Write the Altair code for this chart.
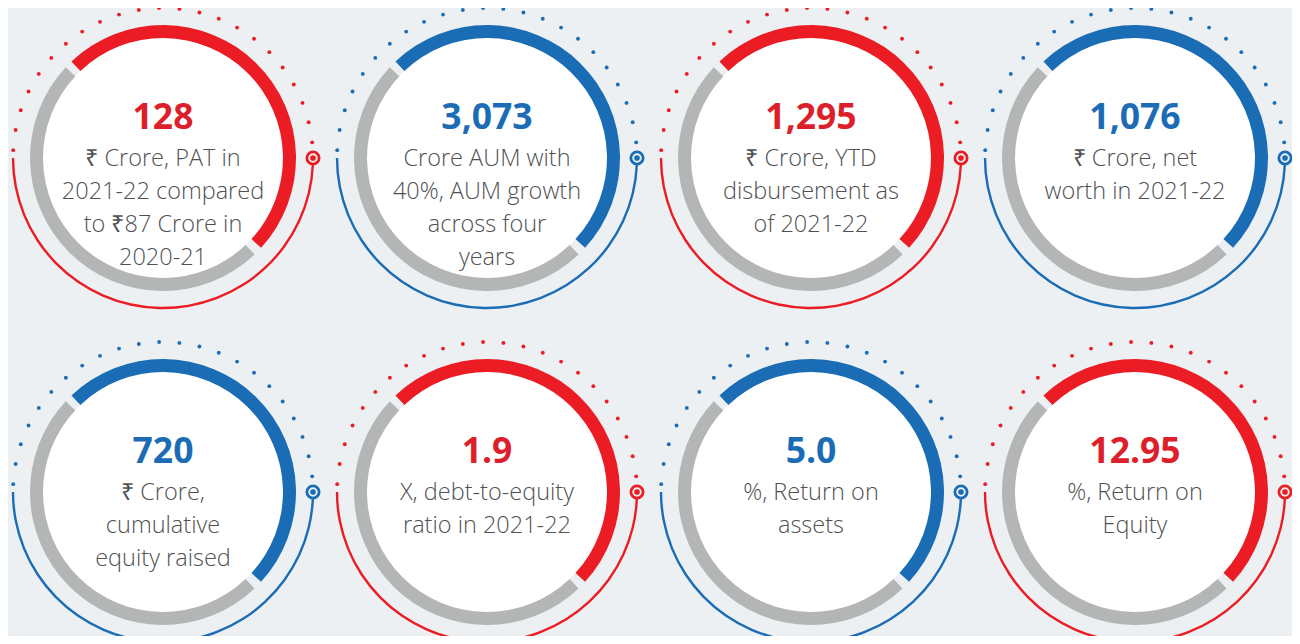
import altair as alt
import pandas as pd
import numpy as np

# ---- KPI content -------------------------------------------------------
values = ["128", "3,073", "1,295", "1,076", "720", "1.9", "5.0", "12.95"]
descriptions = [
    ["₹ Crore, PAT in", "2021-22 compared", "to ₹87 Crore in", "2020-21"],
    ["Crore AUM with", "40%, AUM growth", "across four", "years"],
    ["₹ Crore, YTD", "disbursement as", "of 2021-22"],
    ["₹ Crore, net", "worth in 2021-22"],
    ["₹ Crore,", "cumulative", "equity raised"],
    ["X, debt-to-equity", "ratio in 2021-22"],
    ["%, Return on", "assets"],
    ["%, Return on", "Equity"],
]
tones = ["red", "blue", "red", "blue", "blue", "red", "blue", "red"]
cols = [0, 1, 2, 3, 0, 1, 2, 3]
rows = [0, 0, 0, 0, 1, 1, 1, 1]

# ---- styling -----------------------------------------------------------
RED = "#ec1c24"
BLUE = "#1a6cb5"
NUM_RED = "#dc1f2a"
NUM_BLUE = "#1b6cb5"
GREY = "#b4b5b5"
TXT = "#505153"
BG = "#edf0f3"
TONE = {"red": RED, "blue": BLUE}
NUMTONE = {"red": NUM_RED, "blue": NUM_BLUE}

W, H = 1284, 628
PX_X, PX_Y = 324.0, 334.0      # pixels per column / row
X0, Y0 = 155.0, 150.0          # pixel centre of first column / row
R_IN, R_OUT = 120, 133         # thick ring
R_THIN = 150                   # outer dotted / thin arc

xs = alt.Scale(domain=[-X0 / PX_X, (W - X0) / PX_X], nice=False, zero=False)
ys = alt.Scale(domain=[-Y0 / PX_Y, (H - Y0) / PX_Y], nice=False, zero=False, reverse=True)

deg = np.pi / 180.0

# ---- arc pieces (disc, coloured ring, grey ring, thin outer arc) ------
arc_rows = []
for i in range(len(values)):
    c, r, col = cols[i], rows[i], TONE[tones[i]]
    arc_rows.append(dict(cx=c, cy=r, t1=0.0, t2=2 * np.pi, r1=0, r2=R_IN, fill="#ffffff", o=0))
    arc_rows.append(dict(cx=c, cy=r, t1=-43.5 * deg, t2=132.5 * deg, r1=R_IN, r2=R_OUT, fill=col, o=1))
    arc_rows.append(dict(cx=c, cy=r, t1=136.5 * deg, t2=313.0 * deg, r1=R_IN, r2=R_OUT, fill=GREY, o=2))
    arc_rows.append(dict(cx=c, cy=r, t1=92.7 * deg, t2=270.0 * deg, r1=R_THIN - 1.2, r2=R_THIN + 1.2, fill=col, o=3))
arcs = pd.DataFrame(arc_rows)

arc_layer = alt.Chart(arcs).mark_arc(strokeWidth=0).encode(
    x=alt.X("cx:Q", scale=xs, axis=None),
    y=alt.Y("cy:Q", scale=ys, axis=None),
    theta=alt.Theta("t1:Q", scale=None, stack=None),
    theta2="t2:Q",
    radius=alt.Radius("r1:Q", scale=None),
    radius2="r2:Q",
    color=alt.Color("fill:N", scale=None),
    order=alt.Order("o:Q"),
)

# ---- dotted upper arc --------------------------------------------------
dot_angles = np.linspace(273.0, 444.0, 23)
dot_rows = []
for i in range(len(values)):
    for a in dot_angles:
        dot_rows.append(dict(
            px=cols[i] + R_THIN * np.sin(a * deg) / PX_X,
            py=rows[i] - R_THIN * np.cos(a * deg) / PX_Y,
            fill=TONE[tones[i]],
        ))
dots = pd.DataFrame(dot_rows)
dot_layer = alt.Chart(dots).mark_circle(size=15, opacity=1).encode(
    x=alt.X("px:Q", scale=xs, axis=None),
    y=alt.Y("py:Q", scale=ys, axis=None),
    color=alt.Color("fill:N", scale=None),
)

# ---- target marker at 3 o'clock ---------------------------------------
marks = pd.DataFrame(dict(
    px=[c + R_THIN / PX_X for c in cols],
    py=[float(r) for r in rows],
    fill=[TONE[t] for t in tones],
))
ring_layer = alt.Chart(marks).mark_point(
    shape="circle", size=150, filled=True, fill=BG, strokeWidth=2.8, opacity=1
).encode(
    x=alt.X("px:Q", scale=xs, axis=None),
    y=alt.Y("py:Q", scale=ys, axis=None),
    stroke=alt.Stroke("fill:N", scale=None),
)
core_layer = alt.Chart(marks).mark_circle(size=32, opacity=1).encode(
    x=alt.X("px:Q", scale=xs, axis=None),
    y=alt.Y("py:Q", scale=ys, axis=None),
    color=alt.Color("fill:N", scale=None),
)

# ---- text --------------------------------------------------------------
nums = pd.DataFrame(dict(
    px=[float(c) for c in cols],
    py=[r - 40 / PX_Y for r in rows],
    label=values,
    fill=[NUMTONE[t] for t in tones],
))
num_layer = alt.Chart(nums).mark_text(
    font="Open Sans", fontSize=35.5, fontWeight="bold", baseline="middle", align="center"
).encode(
    x=alt.X("px:Q", scale=xs, axis=None),
    y=alt.Y("py:Q", scale=ys, axis=None),
    text="label:N",
    color=alt.Color("fill:N", scale=None),
)

line_rows = []
for i, lines in enumerate(descriptions):
    for j, s in enumerate(lines):
        line_rows.append(dict(px=float(cols[i]), py=rows[i] + (1 + 33 * j) / PX_Y, label=s))
desc = pd.DataFrame(line_rows)
desc_layer = alt.Chart(desc).mark_text(
    font="Open Sans", fontSize=23.5, fontWeight=300, baseline="middle", align="center", color=TXT
).encode(
    x=alt.X("px:Q", scale=xs, axis=None),
    y=alt.Y("py:Q", scale=ys, axis=None),
    text="label:N",
)

chart = alt.layer(
    arc_layer, dot_layer, ring_layer, core_layer, num_layer, desc_layer
).properties(
    width=W, height=H, background=BG, padding=0,
    autosize=alt.AutoSizeParams(type="none"),
).configure_view(stroke=None)

chart.save("out.html", embed_options={"renderer": "svg", "actions": False})
